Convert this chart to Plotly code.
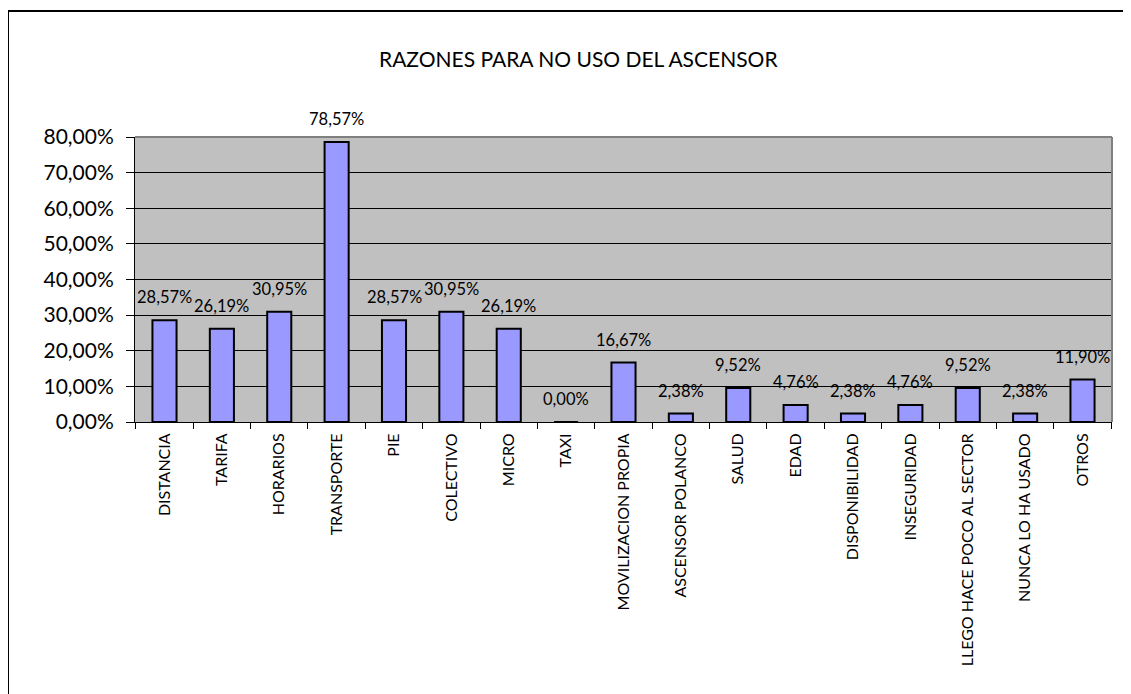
import plotly.graph_objects as go

categories = ["DISTANCIA", "TARIFA", "HORARIOS", "TRANSPORTE", "PIE", "COLECTIVO",
              "MICRO", "TAXI", "MOVILIZACION PROPIA", "ASCENSOR POLANCO", "SALUD",
              "EDAD", "DISPONIBILIDAD", "INSEGURIDAD", "LLEGO HACE POCO AL SECTOR",
              "NUNCA LO HA USADO", "OTROS"]
values_pct = [28.57, 26.19, 30.95, 78.57, 28.57, 30.95, 26.19, 0.00, 16.67, 2.38,
              9.52, 4.76, 2.38, 4.76, 9.52, 2.38, 11.90]
y_ticks_pct = [0, 10, 20, 30, 40, 50, 60, 70, 80]
title_text = "RAZONES PARA NO USO DEL ASCENSOR"

OFF = 8  # page body margin
W, H = 1131 - OFF, 694 - OFF
L, R, T, B = 135 - OFF, 19, 137 - OFF, 272
FONT = "Lato"

values = [v / 100 for v in values_pct]
labels = [f"{v:.2f}".replace(".", ",") + "%" for v in values_pct]

fig = go.Figure()
fig.add_trace(go.Bar(
    x=categories, y=values,
    marker=dict(color="#9999FF", line=dict(color="black", width=2)),
    width=0.42,
    hoverinfo="skip",
))

for c, v, t in zip(categories, values, labels):
    fig.add_annotation(x=c, y=v, text=t, showarrow=False, yanchor="middle",
                       yshift=23, font=dict(family=FONT, size=16.5, color="black"))

pw, ph = W - L - R, H - T - B
def px(x):
    return (x - OFF - L) / pw
def py(y):
    return (T + ph - (y - OFF)) / ph

fig.add_annotation(text=title_text, xref="paper", yref="paper",
                   x=px(578), y=py(58),
                   showarrow=False, xanchor="center", yanchor="middle",
                   font=dict(family=FONT, size=21, color="black"))

# outer chart border (top + left visible)
fig.add_shape(type="line", xref="paper", yref="paper", x0=px(8), x1=px(1140),
              y0=py(11), y1=py(11), line=dict(color="black", width=2))
fig.add_shape(type="line", xref="paper", yref="paper", x0=px(8), x1=px(8),
              y0=py(11), y1=py(700), line=dict(color="black", width=2))
# plot area border top/right gray
fig.add_shape(type="line", xref="paper", yref="paper", x0=0, x1=1, y0=1, y1=1,
              line=dict(color="#808080", width=2))
fig.add_shape(type="line", xref="paper", yref="paper", x0=1, x1=1, y0=0, y1=1,
              line=dict(color="#808080", width=2))

fig.update_layout(
    width=W, height=H,
    margin=dict(l=L, r=R, t=T, b=B),
    paper_bgcolor="white", plot_bgcolor="#C0C0C0",
    separators=",.",
    showlegend=False,
    font=dict(family=FONT, color="black"),
)
fig.update_xaxes(
    type="category", tickangle=-90, tickson="boundaries", ticks="outside",
    ticklen=6, tickcolor="black", showgrid=False, showline=True,
    linecolor="black", linewidth=1, tickfont=dict(family=FONT, size=16),
    ticklabelstandoff=4,
)
fig.update_yaxes(
    range=[0, 0.8], tickvals=[v / 100 for v in y_ticks_pct], tickformat=".2%",
    ticks="outside", ticklen=8, tickcolor="black", showgrid=True,
    gridcolor="black", gridwidth=1, showline=True, linecolor="black",
    linewidth=1, tickfont=dict(family=FONT, size=21), zeroline=False,
    ticklabelstandoff=8,
)

fig.write_html("out.html")
